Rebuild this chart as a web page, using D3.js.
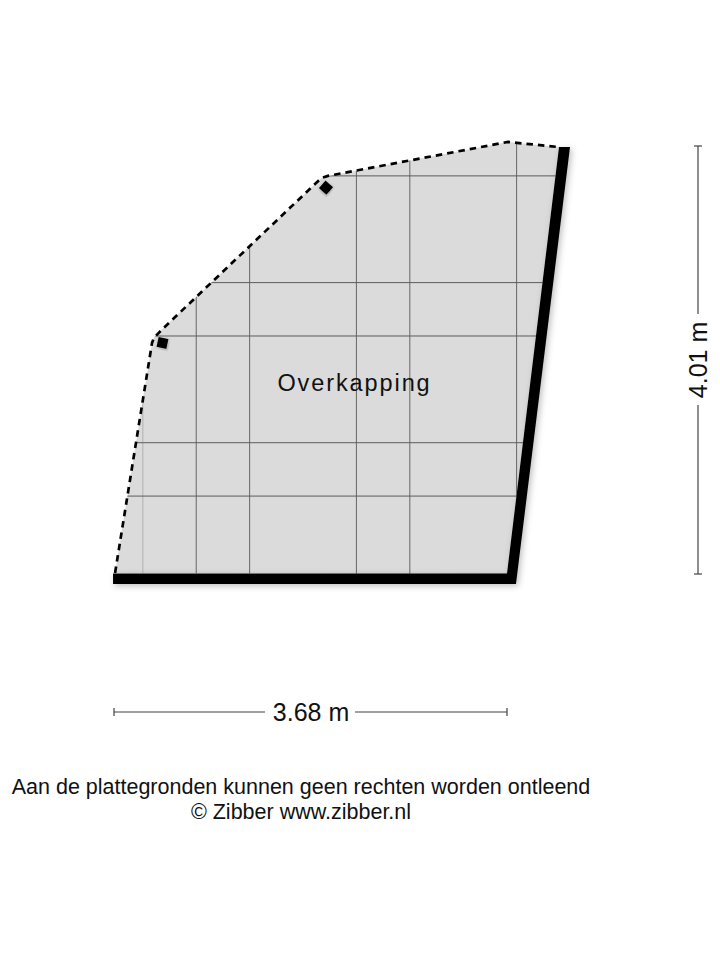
<!DOCTYPE html>
<html lang="nl">

<head>
    <meta charset="UTF-8">
    <title>Overkapping</title>
    <script src="https://d3js.org/d3.v7.min.js"></script>
</head>
<style>
    html, body {
        margin: 0;
        padding: 0;
        background: #fff;
    }

    svg {
        display: block;
    }

    text {
        font-family: "Liberation Sans", Arial, sans-serif;
        fill: #111;
    }
</style>

<body>
    <div id="chart"></div>

    <script>
        // all plan values are in metres, origin at the bottom left corner
        const dimWidth = 3.68;
        const dimHeight = 4.01;

        const dashedEdge = [
            [0.01, 0.01], [0.356, 2.165], [0.375, 2.215], [0.41, 2.25], [0.449, 2.29], [1.91, 3.68],
            [1.948, 3.712], [2.004, 3.73], [3.689, 4.048], [4.167, 4.0]
        ];
        const wall = [
            [-0.009, 0.005], [3.68, 0.005], [4.167, 4.0], [4.27, 4.0], [3.764, -0.094], [-0.009, -0.094]
        ];
        const gridX = [0.77, 1.27, 2.27, 2.77, 3.77];
        const gridFaintX = [0.27];
        const gridY = [0.73, 1.23, 2.23, 2.73, 3.73];
        const piers = [[0.454, 2.165, 12], [1.985, 3.62, 42]];

        const roomLabel = "Overkapping";
        const widthLabel = "3.68 m";
        const heightLabel = "4.01 m";
        const footerLines = [
            "Aan de plattegronden kunnen geen rechten worden ontleend",
            "© Zibber www.zibber.nl"
        ];

        const svg = d3.select("#chart")
            .append("svg")
            .attr("width", 720)
            .attr("height", 960);

        const x = d3.scaleLinear().domain([0, dimWidth]).range([114, 507]);
        const y = d3.scaleLinear().domain([0, dimHeight]).range([574, 146]);
        const line = d3.line().x(d => x(d[0])).y(d => y(d[1]));

        const floor = dashedEdge.concat([[3.68, 0.0]]);

        const defs = svg.append("defs");
        defs.append("clipPath")
            .attr("id", "floorClip")
            .append("path")
            .attr("d", line(floor) + "Z");
        const shadow = defs.append("filter")
            .attr("id", "shadow")
            .attr("x", "-20%").attr("y", "-20%")
            .attr("width", "140%").attr("height", "140%");
        shadow.append("feDropShadow")
            .attr("dx", 2).attr("dy", 2)
            .attr("stdDeviation", 3)
            .attr("flood-color", "#000")
            .attr("flood-opacity", 0.25);

        // floor
        svg.append("path")
            .attr("d", line(floor) + "Z")
            .attr("fill", "#dbdbdb");

        // tile grid, clipped to the floor
        const grid = svg.append("g")
            .attr("clip-path", "url(#floorClip)")
            .attr("stroke-width", 1);
        grid.selectAll(".v")
            .data(gridX)
            .enter()
            .append("line")
            .attr("x1", d => x(d)).attr("x2", d => x(d))
            .attr("y1", 130).attr("y2", 590)
            .attr("stroke", "#666");
        grid.selectAll(".f")
            .data(gridFaintX)
            .enter()
            .append("line")
            .attr("x1", d => x(d)).attr("x2", d => x(d))
            .attr("y1", 130).attr("y2", 590)
            .attr("stroke", "#b0b0b0");
        grid.selectAll(".h")
            .data(gridY)
            .enter()
            .append("line")
            .attr("x1", 100).attr("x2", 580)
            .attr("y1", d => y(d)).attr("y2", d => y(d))
            .attr("stroke", "#5c5c5c");

        // walls and piers
        svg.append("path")
            .attr("d", line(wall) + "Z")
            .attr("fill", "#000")
            .attr("filter", "url(#shadow)");

        svg.selectAll(".pier")
            .data(piers)
            .enter()
            .append("rect")
            .attr("x", -5).attr("y", -5)
            .attr("width", 10).attr("height", 10)
            .attr("transform", d => `translate(${x(d[0])},${y(d[1])}) rotate(${d[2]})`)
            .attr("fill", "#000")
            .attr("filter", "url(#shadow)");

        svg.append("path")
            .attr("d", line(dashedEdge))
            .attr("fill", "none")
            .attr("stroke", "#000")
            .attr("stroke-width", 2.7)
            .attr("stroke-dasharray", "6.5 5");

        svg.append("text")
            .attr("x", 354.5)
            .attr("y", 390.5)
            .attr("text-anchor", "middle")
            .attr("font-size", 23.5)
            .attr("letter-spacing", 1.9)
            .text(roomLabel);

        // dimension lines
        const dims = svg.append("g")
            .attr("stroke", "#444")
            .attr("stroke-width", 1.2);
        const dimY = 712;
        const dimX = 698;
        dims.append("line").attr("x1", x(0)).attr("x2", 265).attr("y1", dimY).attr("y2", dimY);
        dims.append("line").attr("x1", 355).attr("x2", x(dimWidth)).attr("y1", dimY).attr("y2", dimY);
        [0, dimWidth].forEach(d => {
            dims.append("line").attr("x1", x(d)).attr("x2", x(d)).attr("y1", dimY - 4).attr("y2", dimY + 4);
        });
        dims.append("line").attr("x1", dimX).attr("x2", dimX).attr("y1", y(dimHeight)).attr("y2", 314);
        dims.append("line").attr("x1", dimX).attr("x2", dimX).attr("y1", 405).attr("y2", y(0));
        [0, dimHeight].forEach(d => {
            dims.append("line").attr("x1", dimX - 4).attr("x2", dimX + 4).attr("y1", y(d)).attr("y2", y(d));
        });

        svg.append("text")
            .attr("x", 311)
            .attr("y", 721)
            .attr("text-anchor", "middle")
            .attr("font-size", 25)
            .text(widthLabel);

        svg.append("text")
            .attr("transform", `translate(707,360) rotate(-90)`)
            .attr("text-anchor", "middle")
            .attr("font-size", 25)
            .text(heightLabel);

        // footer
        svg.selectAll(".footer")
            .data(footerLines)
            .enter()
            .append("text")
            .attr("x", 301)
            .attr("y", (d, i) => 794 + i * 24.5)
            .attr("text-anchor", "middle")
            .attr("font-size", 21.5)
            .text(d => d);
    </script>
</body>

</html>
